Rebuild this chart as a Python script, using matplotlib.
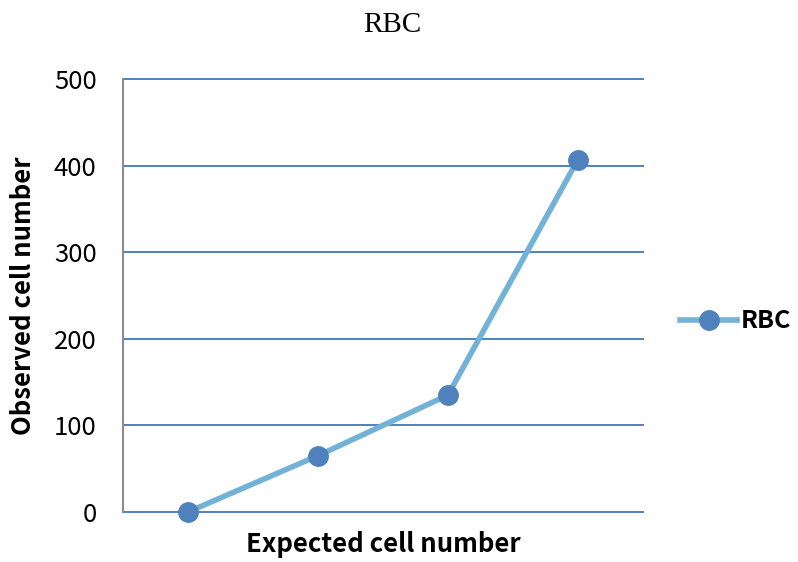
import matplotlib
matplotlib.use("Agg")
import matplotlib.pyplot as plt

# data
categories = ["1", "2", "3", "4"]
observed = [0, 65, 135, 407]
series_name = "RBC"

plt.rcParams["font.family"] = ["Noto Sans CJK KR", "DejaVu Sans"]

fig = plt.figure(figsize=(7.98, 5.62), dpi=100)
ax = fig.add_axes([0.1541, 0.0890, 0.6516, 0.7705])

x = list(range(len(categories)))
ax.plot(x, observed, color="#72B2D6", lw=4, marker="o", markersize=14,
        markerfacecolor="#4F81BD", markeredgecolor="#4F81BD", label=series_name,
        zorder=3, clip_on=False)

ax.set_xlim(-0.5, len(categories) - 0.5)
ax.set_ylim(0, 500)
ax.set_yticks(range(0, 501, 100))
ax.set_xticks([])
for v in range(0, 501, 100):
    ax.axhline(v, color="#4F81BD", lw=1.4, clip_on=False, zorder=1)
ax.tick_params(axis="y", length=0, labelsize=18.5, pad=19)

for s in ["top", "right", "bottom"]:
    ax.spines[s].set_visible(False)
ax.spines["left"].set_color("#8C8C8C")
ax.spines["left"].set_linewidth(1.5)
ax.spines["left"].set_zorder(2)

ax.set_ylabel("Observed cell number", fontsize=18.5, fontweight="bold", labelpad=12)
ax.set_xlabel("Expected cell number", fontsize=18.5, fontweight="bold", labelpad=14)
fig.text(0.491, 0.955, "RBC", fontsize=21, family="Liberation Serif",
         ha="center", va="center")

leg = ax.legend(loc="center left", bbox_to_anchor=(1.052, 0.44), frameon=False,
                prop={"size": 18, "weight": "bold"}, handlelength=2.3,
                handletextpad=0.15, borderaxespad=0)

fig.savefig("out.png", dpi=100)
